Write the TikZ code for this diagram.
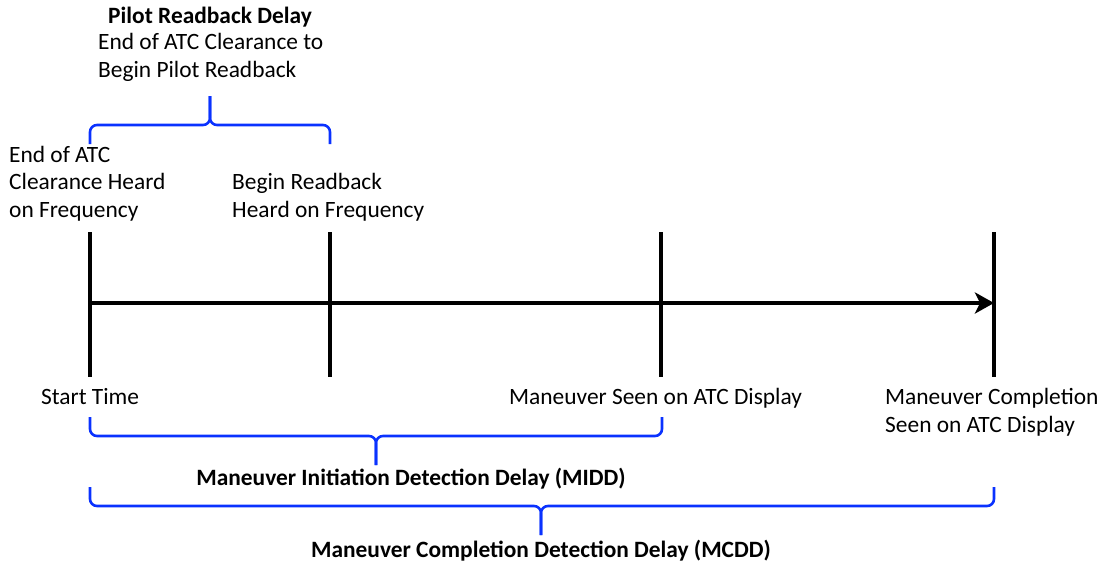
\documentclass[tikz,border=0pt]{standalone}
\usepackage{fontspec}
\setmainfont{Carlito}
\usetikzlibrary{positioning, calc}
\usetikzlibrary{arrows.meta}
\definecolor{braceblue}{RGB}{10,50,255}

\begin{document}
\begin{tikzpicture}[x=1pt,y=-1pt,line join=round]
	\def \ticktop{232}
	\def \tickbot{377}
	\def \axis{303}
	\tikzstyle{tick}=[draw=black,line width=4pt]
	\tikzstyle{timeline}=[draw=black,line width=4pt,-{Stealth[length=19pt,width=21pt,inset=5pt]}]
	\tikzstyle{brace}=[draw=braceblue,line width=2.6pt,rounded corners=7pt]
	\tikzstyle{lbl}=[inner sep=0pt,align=left,anchor=base west,font=\fontsize{23.4}{27.5}\selectfont]
	\tikzstyle{blbl}=[inner sep=0pt,anchor=base,font=\fontsize{23.4}{27.5}\selectfont\bfseries]
	\useasboundingbox (0,0) rectangle (1099,565);

	% tick marks
	\coordinate (t0) at (90,\axis);
	\coordinate (t1) at (330,\axis);
	\coordinate (t2) at (661,\axis);
	\coordinate (t3) at (994,\axis);
	\draw[tick] (90,\ticktop) -- (90,\tickbot);
	\draw[tick] (330,\ticktop) -- (330,\tickbot);
	\draw[tick] (661,\ticktop) -- (661,\tickbot);
	\draw[tick] (994,\ticktop) -- (994,\tickbot);

	% time axis
	\draw[timeline] (t0) -- (t3);

	% event labels (anchored on the baseline of the last line)
	\node[lbl] (clearance)	at (9,217)	{End of ATC\\Clearance Heard\\on Frequency};
	\node[lbl] (readback)	at (232,217)	{Begin Readback\\Heard on Frequency};
	\node[lbl] (start)	at (41,404)	{Start Time};
	\node[lbl] (seen)	at (509,404)	{Maneuver Seen on ATC Display};
	\node[lbl] (complete)	at (885,432)	{Maneuver Completion\\Seen on ATC Display};

	% pilot readback delay
	\draw[brace] (90,144) |- (210,125) -- (210,96);
	\draw[brace] (330,144) |- (210,125) -- (210,96);
	\node[blbl] (prd)	at (210,23)	{Pilot Readback Delay};
	\node[lbl] (prdtxt)	at (98,77)	{End of ATC Clearance to\\Begin Pilot Readback};

	% MIDD
	\draw[brace] (90,417) |- (376,436) -- (376,465);
	\draw[brace] (662,417) |- (376,436) -- (376,465);
	\node[blbl] (midd)	at (411,485)	{Maneuver Initiation Detection Delay (MIDD)};

	% MCDD
	\draw[brace] (90,487) |- (541,506) -- (541,535);
	\draw[brace] (994,487) |- (541,506) -- (541,535);
	\node[blbl] (mcdd)	at (541,557)	{Maneuver Completion Detection Delay (MCDD)};

\end{tikzpicture}
\end{document}
